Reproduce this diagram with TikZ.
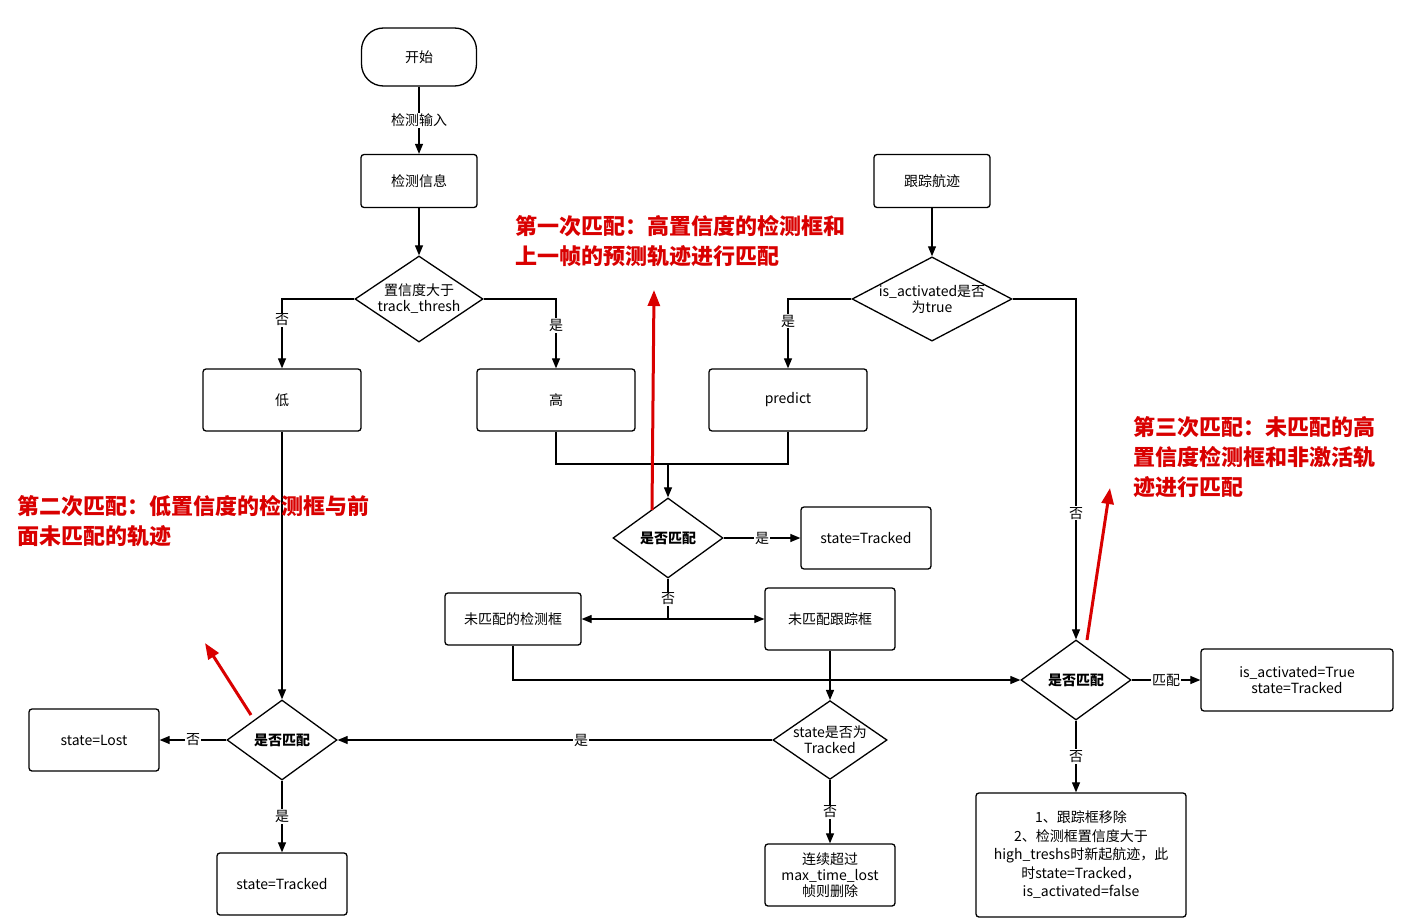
\documentclass[tikz,border=0pt]{standalone}
\usepackage{fontspec}
\setmainfont{Noto Sans CJK SC}
\usetikzlibrary{shapes.geometric,arrows.meta}
\begin{document}
\begin{tikzpicture}[x=1pt,y=-1pt,
  every node/.style={font=\fontsize{14}{16}\selectfont,align=center,inner sep=1pt},
  box/.style={draw,line width=1.3pt,rounded corners=3pt,minimum width=#1,minimum height=60pt},
  dia/.style={draw,line width=1.3pt,diamond,aspect=1.4,minimum width=#1,minimum height=80pt,inner sep=0pt},
  ar/.style={-{Triangle[length=10pt,width=8pt]},line width=1.2pt},
  ln/.style={line width=1.2pt},
  lab/.style={fill=white,inner sep=1pt},
  red/.style={font=\fontsize{22}{30}\selectfont\bfseries,text=red!85!black,align=left,anchor=north west},
  rar/.style={-{Triangle[length=16pt,width=12pt]},line width=3pt,red!85!black}]
\useasboundingbox (0,0) rectangle (1422,923);
\fill[white] (0,0) rectangle (1422,923);
\node[draw,line width=1.3pt,rounded corners=22pt,minimum width=115pt,minimum height=58pt] (st) at (419,57) {开始};
\node[box=116pt,minimum height=53pt] (jc) at (419,181) {检测信息};
\node[dia=128pt,minimum height=86pt,aspect=1.5] (d1) at (419,299) {置信度大于\\track\_thresh};
\node[box=158pt,minimum height=62pt] (low) at (282,400) {低};
\node[box=158pt,minimum height=62pt] (high) at (556,400) {高};
\node[box=116pt,minimum height=53pt] (gz) at (932,181) {跟踪航迹};
\node[dia=140pt,minimum height=76pt,aspect=1.9] (d2) at (932,299) {is\_activated是否\\为true};
\node[box=158pt,minimum height=62pt] (pr) at (788,400) {predict};
\node[dia=110pt,font=\fontsize{14}{16}\selectfont\bfseries] (d3) at (668,538) {是否匹配};
\node[box=130pt,minimum height=62pt] (t1) at (866,538) {state=Tracked};
\node[box=136pt,minimum height=52pt] (um) at (513,619) {未匹配的检测框};
\node[box=130pt,minimum height=62pt] (ut) at (830,619) {未匹配跟踪框};
\node[dia=110pt,font=\fontsize{14}{16}\selectfont\bfseries] (d4) at (1076,680) {是否匹配};
\node[box=192pt,minimum height=62pt] (ia) at (1297,680) {is\_activated=True\\state=Tracked};
\node[dia=110pt,font=\fontsize{14}{16}\selectfont\bfseries] (d5) at (282,740) {是否匹配};
\node[box=130pt,minimum height=62pt] (lost) at (94,740) {state=Lost};
\node[dia=110pt,minimum height=76pt,aspect=1.45] (d6) at (830,740) {state是否为\\Tracked};
\node[box=130pt,minimum height=62pt] (t2) at (282,884) {state=Tracked};
\node[box=130pt,minimum height=62pt] (del) at (830,875) {连续超过\\max\_time\_lost\\帧则删除};
\node[box=210pt,minimum height=124pt,font=\fontsize{14}{18.5}\selectfont] (rm) at (1081,855) {1、跟踪框移除\\2、检测框置信度大于\\high\_treshs时新起航迹，此\\时state=Tracked，\\is\_activated=false};

\draw[ar] (st) -- node[lab]{检测输入} (jc);
\draw[ar] (jc) -- (d1);
\draw[ar] (d1.west) -| node[lab,pos=0.65]{否} (low.north);
\draw[ar] (d1.east) -| node[lab,pos=0.69]{是} (high.north);
\draw[ar] (gz) -- (d2);
\draw[ar] (d2.west) -| node[lab,pos=0.66]{是} (pr.north);
\draw[ar] (d2.east) -| node[lab,pos=0.815]{否} (d4.north);
\coordinate (m1) at (668,464);
\draw[ln] (high.south) |- (m1);
\draw[ln] (pr.south) |- (m1);
\draw[ar] (m1) -- (d3.north);
\draw[ar] (d3.east) -- node[lab]{是} (t1.west);
\coordinate (m2) at (668,619);
\draw[ln] (d3.south) -- node[lab]{否} (m2);
\draw[ar] (m2) -- (um.east);
\draw[ar] (m2) -- (ut.west);
\draw[ar] (um.south) |- (d4.west);
\draw[ar] (d4.east) -- node[lab]{匹配} (ia.west);
\draw[ar] (d4.south) -- node[lab]{否} (rm.north -| d4.south);
\draw[ar] (ut) -- (d6);
\draw[ar] (d6.west) -- node[lab,pos=0.44]{是} (d5.east);
\draw[ar] (d6.south) -- node[lab]{否} (del.north);
\draw[ar] (low) -- (d5);
\draw[ar] (d5.west) -- node[lab]{否} (lost.east);
\draw[ar] (d5.south) -- node[lab]{是} (t2.north);

\node[red] (r1) at (514,214) {第一次匹配：高置信度的检测框和\\上一帧的预测轨迹进行匹配};
\node[red] (r2) at (16,494) {第二次匹配：低置信度的检测框与前\\面未匹配的轨迹};
\node[red] (r3) at (1132,415) {第三次匹配：未匹配的高\\置信度检测框和非激活轨\\迹进行匹配};
\coordinate (a1) at (652,510); \coordinate (b1) at (654,290);
\coordinate (a2) at (251,715); \coordinate (b2) at (205,643);
\coordinate (a3) at (1087,640); \coordinate (b3) at (1110,488);
\draw[rar] (a1) -- (b1);
\draw[rar] (a2) -- (b2);
\draw[rar] (a3) -- (b3);
\end{tikzpicture}
\end{document}
